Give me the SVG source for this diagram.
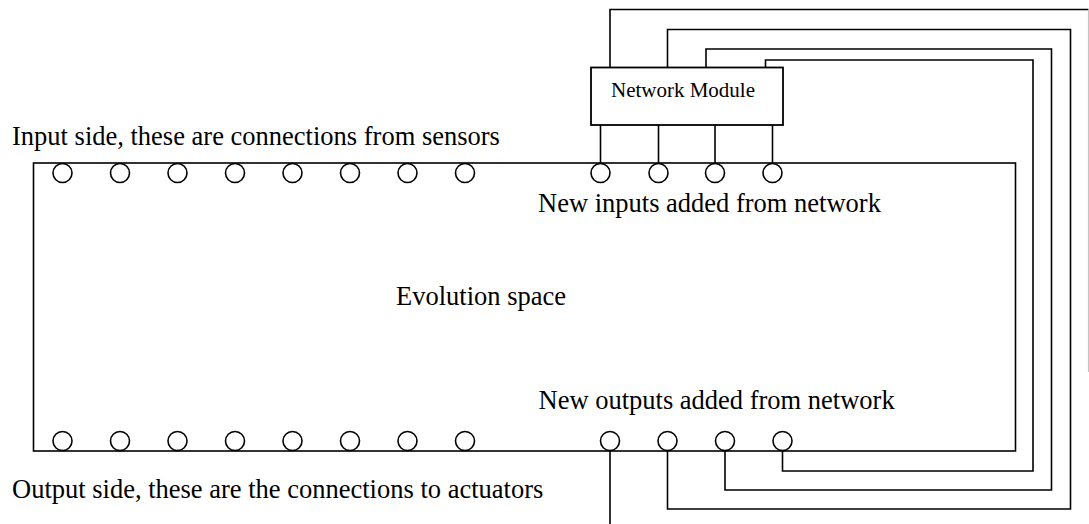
<svg xmlns="http://www.w3.org/2000/svg" width="1089" height="524" viewBox="0 0 1089 524">
  <style>
    .ln { fill: none; stroke: #000; stroke-width: 1.6; }
    .faint { fill: none; stroke: #c4c4c4; stroke-width: 1.2; }
    .port { fill: #fff; stroke: #000; stroke-width: 1.6; }
    .box { fill: #fff; stroke: #000; stroke-width: 1.8; }
    text { font-family: "Liberation Serif", "Times New Roman", serif; fill: #000; }
    .lbl { font-size: 26.5px; }
    .small { font-size: 21px; }
  </style>
  <defs>
    <circle id="port" r="9.5" class="port"/>
  </defs>

  <rect width="1089" height="524" fill="#fff"/>

  <!-- wiring between the network module and the added ports -->
  <g id="connectors">
    <!-- module outputs down to the new input ports -->
    <path class="ln" d="M600.5 125 V163.5 M658.5 125 V163.5 M715 125 V163.5 M772.5 125 V163.5"/>
    <!-- loops from the module round to the new output ports -->
    <path class="ln" d="M610 67.5 V9.5 H1088.5"/>
    <path class="faint" d="M1088.5 9.5 V372"/>
    <path class="ln" d="M667.5 67.5 V29.5 H1070.5 V509 H667.5 V451"/>
    <path class="ln" d="M706 67.5 V49 H1051.5 V490 H725 V451"/>
    <path class="ln" d="M765.5 67.5 V60 H1033 V471 H782.5 V451"/>
    <!-- first new output leaves the frame -->
    <path class="ln" d="M610 451 V524"/>
  </g>

  <!-- evolution space with its sensor and actuator ports -->
  <g id="evolution-space">
    <rect x="33.5" y="163" width="982" height="288" class="ln"/>
    <text class="lbl" x="396" y="305">Evolution space</text>
  </g>

  <g id="input-side">
    <text class="lbl" x="12" y="145">Input side, these are connections from sensors</text>
    <use href="#port" x="62.5" y="173"/>
    <use href="#port" x="120" y="173"/>
    <use href="#port" x="177.5" y="173"/>
    <use href="#port" x="235" y="173"/>
    <use href="#port" x="292.5" y="173"/>
    <use href="#port" x="350" y="173"/>
    <use href="#port" x="407.5" y="173"/>
    <use href="#port" x="465" y="173"/>
  </g>

  <g id="output-side">
    <text class="lbl" x="12" y="498">Output side, these are the connections to actuators</text>
    <use href="#port" x="62.5" y="441"/>
    <use href="#port" x="120" y="441"/>
    <use href="#port" x="177.5" y="441"/>
    <use href="#port" x="235" y="441"/>
    <use href="#port" x="292.5" y="441"/>
    <use href="#port" x="350" y="441"/>
    <use href="#port" x="407.5" y="441"/>
    <use href="#port" x="465" y="441"/>
  </g>

  <g id="network-inputs">
    <use href="#port" x="600.5" y="173"/>
    <use href="#port" x="658.5" y="173"/>
    <use href="#port" x="715" y="173"/>
    <use href="#port" x="772.5" y="173"/>
    <text class="lbl" x="538" y="212">New inputs added from network</text>
  </g>

  <g id="network-outputs">
    <text class="lbl" x="538.5" y="409">New outputs added from network</text>
    <use href="#port" x="610" y="441"/>
    <use href="#port" x="667.5" y="441"/>
    <use href="#port" x="725" y="441"/>
    <use href="#port" x="782.5" y="441"/>
  </g>

  <g id="network-module">
    <rect x="591" y="67.5" width="192" height="57.5" class="box"/>
    <text class="small" x="683" y="97" text-anchor="middle">Network Module</text>
  </g>
</svg>
